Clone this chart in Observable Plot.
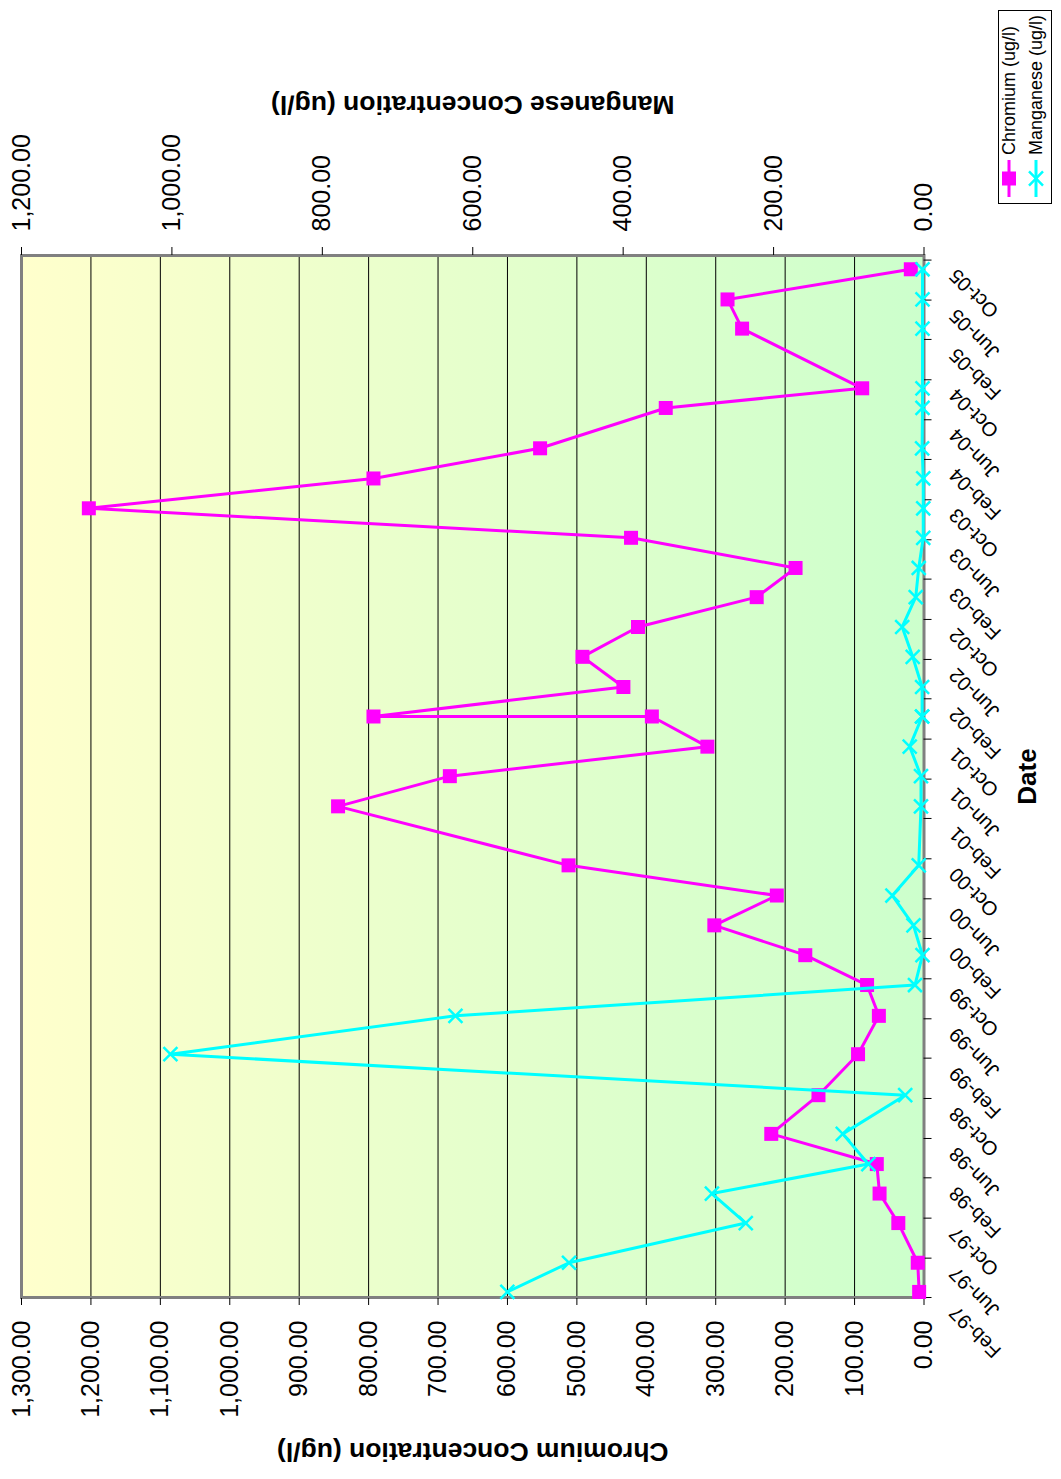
<!DOCTYPE html>
<html>
<head>
<meta charset="utf-8">
<script src="https://cdn.jsdelivr.net/npm/d3@7"></script>
<script src="https://cdn.jsdelivr.net/npm/@observablehq/plot@0.6"></script>
<style>
  html, body { margin: 0; padding: 0; background: #fff; overflow: hidden; }
  /* The chart is laid out landscape, then turned a quarter-turn counter-clockwise onto the portrait page. */
  #page {
    position: absolute; left: 0; top: 0;
    width: 1479px; height: 1061px;
    transform-origin: 0 0;
    transform: translate(0, 1479px) rotate(-90deg);
    font-family: "Liberation Sans", Arial, sans-serif;
  }
  #page svg { display: block; }
  #legend {
    position: absolute; left: 1275px; top: 998px;
    width: 194px; height: 54px;
    border: 1.5px solid #000; background: #fff; box-sizing: border-box;
  }
</style>
</head>
<body>
<div id="page"></div>
<script>
// Sampling dates (quarterly monitoring, two samples taken in December 2001)
const sampleDates = [
  "1997-02-18", "1997-05-18", "1997-09-16", "1997-12-15",
  "1998-03-15", "1998-06-15", "1998-10-11",
  "1999-02-13", "1999-06-10", "1999-09-12", "1999-12-12",
  "2000-03-12", "2000-06-11", "2000-09-11",
  "2001-03-10", "2001-06-10", "2001-09-08", "2001-12-09", "2001-12-09",
  "2002-03-09", "2002-06-09", "2002-09-08", "2002-12-08",
  "2003-03-07", "2003-06-07", "2003-09-05", "2003-12-05",
  "2004-03-06", "2004-07-07", "2004-09-05",
  "2005-03-06", "2005-06-03", "2005-09-03"
];

// Chromium (ug/l), left axis
const chromium = [
  7, 9, 37, 64,
  68, 220, 152,
  95, 65, 82, 171,
  302, 212, 512,
  844, 683, 312, 392, 793,
  433, 492, 412, 241,
  185, 422, 1203, 793,
  553, 372, 89,
  262, 283, 19
];

// Manganese (ug/l), right axis
const manganese = [
  554, 472, 237, 282,
  74, 108, 25,
  1002, 623, 12, 2,
  14, 42, 7,
  4, 4, 19, 2.5, 2.5,
  2.5, 15, 29, 11,
  7, 1, 1, 1,
  2.5, 2, 2,
  2, 2, 2
];

// Axis ticks
const chromiumTicks = d3.range(0, 1301, 100);
const manganeseTicks = [0, 200, 400, 600, 800, 1000, 1200];
const dateTicks = d3.utcMonth.range(new Date("1997-02-01"), new Date("2005-11-01"), 4);
const dateDomain = [new Date("1997-02-01"), new Date("2005-10-15")];

const seriesNames = ["Chromium (ug/l)", "Manganese (ug/l)"];
const seriesColors = ["#FF00FF", "#00FFFF"];

const fmt = d3.format(",.2f");
const mnScale = 1300 / 1200; // manganese axis runs 0–1200 over the same height as 0–1300

const rows = sampleDates.map((d, i) => ({
  date: new Date(d),
  cr: chromium[i],
  mn: manganese[i]
}));

const font = `"Liberation Sans", Arial, sans-serif`;

const chart = Plot.plot({
  width: 1479,
  height: 1061,
  marginLeft: 181,
  marginRight: 256,
  marginTop: 21,
  marginBottom: 137.5,
  style: { fontFamily: font, background: "transparent", color: "#000", overflow: "visible" },
  x: { type: "utc", domain: dateDomain },
  y: { domain: [0, 1300] },
  marks: [
    Plot.frame({ fill: "url(#plotBg)" }),
    Plot.gridY(chromiumTicks, { stroke: "#000", strokeOpacity: 1, strokeWidth: 1 }),
    Plot.frame({ stroke: "#808080", strokeWidth: 3 }),
    Plot.axisY({
      anchor: "left", ticks: chromiumTicks, tickFormat: fmt,
      tickSize: 7, tickPadding: 16, fontSize: 25, label: null
    }),
    Plot.axisY({
      anchor: "right", ticks: manganeseTicks.map((v) => v * mnScale),
      tickFormat: (v) => fmt(v / mnScale),
      tickSize: 8, tickPadding: 16, fontSize: 25, label: null
    }),
    Plot.axisX({
      ticks: dateTicks, tickFormat: d3.utcFormat("%b-%y"),
      tickRotate: -45, tickSize: 8, fontSize: 20, label: null
    }),
    // Chromium series
    Plot.lineY(rows, { x: "date", y: "cr", stroke: seriesColors[0], strokeWidth: 3 }),
    Plot.dot(rows, { x: "date", y: "cr", symbol: "square", r: 7.9, fill: seriesColors[0], stroke: "none" }),
    // Manganese series on the secondary axis
    Plot.lineY(rows, { x: "date", y: (d) => d.mn * mnScale, stroke: seriesColors[1], strokeWidth: 3 }),
    Plot.dot(rows, { x: "date", y: (d) => d.mn * mnScale, symbol: "times", r: 6.4, stroke: seriesColors[1], strokeWidth: 2.5 }),
    // Axis titles
    Plot.text(["Chromium Concentration (ug/l)"], {
      text: (d) => d, frameAnchor: "left", textAnchor: "middle", rotate: -90, dx: -154,
      fontSize: 26.5, fontWeight: "bold", fill: "#000"
    }),
    Plot.text(["Manganese Concentration (ug/l)"], {
      text: (d) => d, frameAnchor: "right", textAnchor: "middle", rotate: -90, dx: 151,
      fontSize: 26.5, fontWeight: "bold", fill: "#000"
    }),
    Plot.text(["Date"], {
      text: (d) => d, frameAnchor: "bottom", textAnchor: "middle", dy: 111.5,
      fontSize: 26, fontWeight: "bold", fill: "#000"
    })
  ]
});

// Plot-area fill: pale yellow at the top fading to pale green at the bottom
const defs = d3.select(chart).insert("defs", ":first-child");
const grad = defs.append("linearGradient")
  .attr("id", "plotBg").attr("x1", 0).attr("y1", 0).attr("x2", 0).attr("y2", 1);
grad.append("stop").attr("offset", "0%").attr("stop-color", "#FFFFCC");
grad.append("stop").attr("offset", "100%").attr("stop-color", "#CCFFCC");

// Nudge the slanted date labels a little further from the axis
d3.select(chart).selectAll("[aria-label='x-axis tick label'] text")
  .attr("transform", function () {
    return `translate(-12,15) ${this.getAttribute("transform") || ""}`;
  });

const page = document.getElementById("page");
page.appendChild(chart);

// Legend box
const legend = d3.select(page).append("div").attr("id", "legend");
const lsvg = legend.append("svg").attr("width", 191).attr("height", 51)
  .style("font-family", font);
seriesNames.forEach((name, i) => {
  const y = i === 0 ? 10 : 37;
  const g = lsvg.append("g").attr("transform", `translate(0,${y})`);
  g.append("line").attr("x1", 6).attr("x2", 43).attr("y1", 0).attr("y2", 0)
    .attr("stroke", seriesColors[i]).attr("stroke-width", 3);
  if (i === 0) {
    g.append("rect").attr("x", 24.5 - 7).attr("y", -7).attr("width", 14).attr("height", 14)
      .attr("fill", seriesColors[i]);
  } else {
    g.append("path").attr("d", d3.symbol(d3.symbolTimes, 130)()).attr("transform", "translate(24.5,0)")
      .attr("fill", "none").attr("stroke", seriesColors[i]).attr("stroke-width", 2.5);
  }
  g.append("text").attr("x", 48).attr("y", 0).attr("dy", "0.35em")
    .attr("font-size", 18).attr("fill", "#000").text(name);
});
</script>
</body>
</html>
